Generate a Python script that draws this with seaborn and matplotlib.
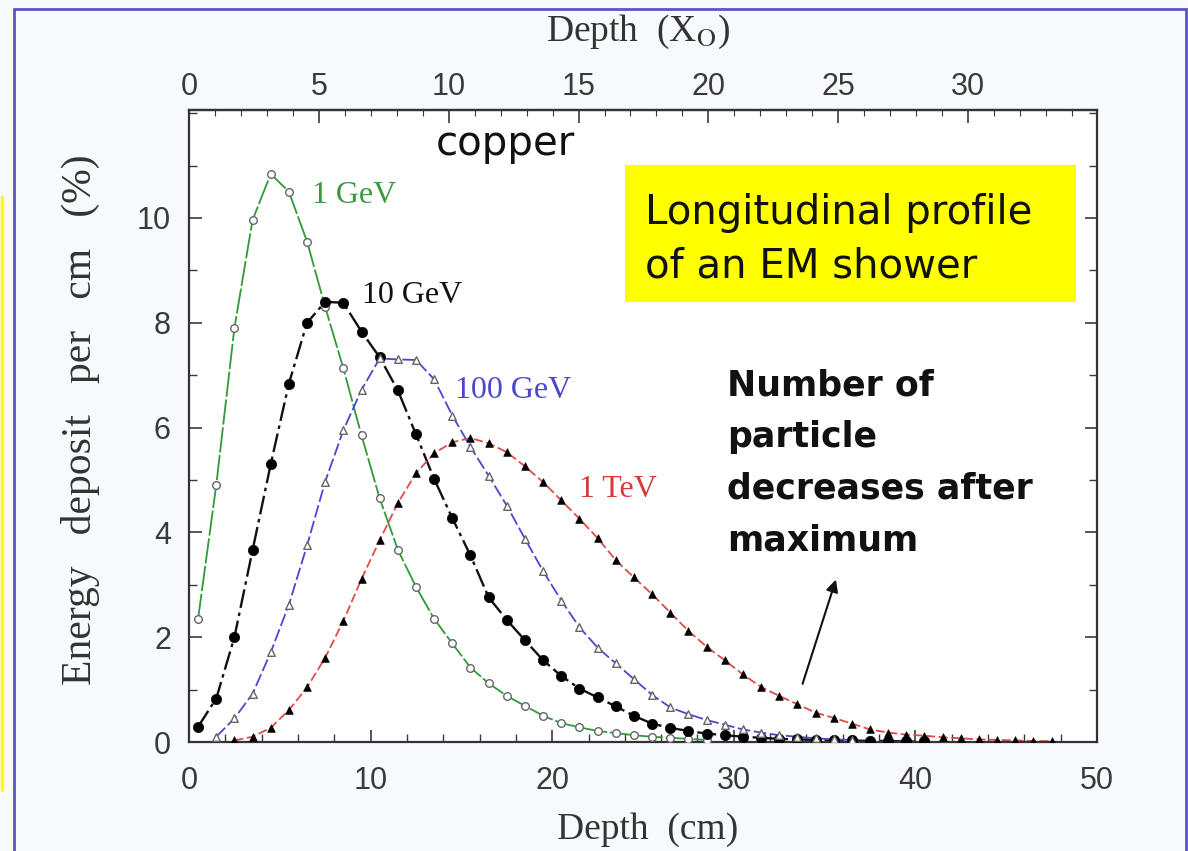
import numpy as np
import pandas as pd
import matplotlib
matplotlib.use("Agg")
import matplotlib.pyplot as plt
from matplotlib.patches import Rectangle
from matplotlib.ticker import MultipleLocator
import seaborn as sns

# ---------------- data ----------------
energies = ["1 GeV", "10 GeV", "100 GeV", "1 TeV"]

depth_1gev = np.arange(0.5, 29.0, 1.0)
dep_1gev = [2.35, 4.9, 7.9, 9.96, 10.84, 10.5, 9.55, 8.3, 7.13, 5.85, 4.65, 3.67,
            2.96, 2.35, 1.88, 1.42, 1.12, 0.88, 0.69, 0.5, 0.36, 0.28, 0.21, 0.17,
            0.13, 0.10, 0.08, 0.06, 0.04]

depth_10gev = np.arange(0.5, 41.0, 1.0)
dep_10gev = [0.29, 0.83, 2.0, 3.66, 5.3, 6.84, 8.0, 8.4, 8.38, 7.83, 7.34, 6.71,
             5.87, 5.02, 4.27, 3.56, 2.76, 2.33, 1.94, 1.56, 1.26, 1.02, 0.85, 0.68,
             0.5, 0.35, 0.27, 0.21, 0.16, 0.13, 0.10, 0.08, 0.06, 0.05, 0.04, 0.03,
             0.03, 0.02, 0.02, 0.01, 0.01]

depth_100gev = np.arange(1.5, 37.0, 1.0)
dep_100gev = [0.1, 0.45, 0.92, 1.71, 2.62, 3.75, 4.97, 5.95, 6.72, 7.32, 7.3, 7.29,
              6.92, 6.23, 5.63, 5.08, 4.51, 3.88, 3.26, 2.7, 2.19, 1.8, 1.5, 1.2,
              0.9, 0.66, 0.53, 0.42, 0.33, 0.24, 0.18, 0.13, 0.10, 0.07, 0.05, 0.04]

depth_1tev = np.arange(2.5, 48.0, 1.0)
dep_1tev = [0.03, 0.1, 0.27, 0.61, 1.04, 1.61, 2.31, 3.11, 3.85, 4.56, 5.13, 5.51,
            5.72, 5.8, 5.7, 5.53, 5.26, 4.96, 4.61, 4.26, 3.89, 3.47, 3.14, 2.82,
            2.47, 2.12, 1.82, 1.56, 1.29, 1.05, 0.88, 0.72, 0.56, 0.46, 0.35, 0.24,
            0.18, 0.14, 0.12, 0.09, 0.07, 0.05, 0.04, 0.03, 0.02, 0.015]

x_ticks_cm = [0, 10, 20, 30, 40, 50]
y_ticks = [0, 2, 4, 6, 8, 10]
x0_ticks = [0, 5, 10, 15, 20, 25, 30]
X0_CU = 1.43  # radiation length of copper in cm

# ---------------- styles ----------------
line_colors = {"1 GeV": "#2f9a3a", "10 GeV": "#111111", "100 GeV": "#4b46d0", "1 TeV": "#e04a4a"}
text_colors = {"1 GeV": "#3a9a40", "10 GeV": "#111111", "100 GeV": "#4b46d0", "1 TeV": "#d83838"}
dashes = {"1 GeV": (14, 1.5), "10 GeV": (8, 2, 1.5, 2), "100 GeV": (7, 2), "1 TeV": (5, 2)}
line_widths = {"1 GeV": 1.3, "10 GeV": 1.7, "100 GeV": 1.3, "1 TeV": 1.3}
marker_style = {
    "1 GeV": dict(marker="o", s=30, facecolor="white", edgecolor="#666666", linewidth=1.0),
    "10 GeV": dict(marker="o", s=55, facecolor="black", edgecolor="black", linewidth=0.5),
    "100 GeV": dict(marker="^", s=30, facecolor="white", edgecolor="#666666", linewidth=1.0),
    "1 TeV": dict(marker="^", s=30, facecolor="black", edgecolor="black", linewidth=0.5),
}

frames = []
for name, d, v in [("1 GeV", depth_1gev, dep_1gev), ("10 GeV", depth_10gev, dep_10gev),
                   ("100 GeV", depth_100gev, dep_100gev), ("1 TeV", depth_1tev, dep_1tev)]:
    frames.append(pd.DataFrame({"depth": d, "deposit": v, "energy": name}))
df = pd.concat(frames, ignore_index=True)

sns.set_style("ticks")
plt.rcParams["font.family"] = ["Liberation Sans", "DejaVu Sans"]
plt.rcParams["mathtext.fontset"] = "stix"

fig = plt.figure(figsize=(11.88, 8.51), dpi=100, facecolor="#f7f9fc")
ax = fig.add_axes([189 / 1188, 109 / 851, 908 / 1188, 632 / 851])
ax.set_facecolor("white")

for name in energies:
    sub = df[df["energy"] == name]
    sns.lineplot(data=sub, x="depth", y="deposit", color=line_colors[name],
                 estimator=None, legend=False, linewidth=line_widths[name],
                 dashes=dashes[name], ax=ax, zorder=2)
for name in energies:
    sub = df[df["energy"] == name]
    sns.scatterplot(data=sub, x="depth", y="deposit", ax=ax, zorder=3, legend=False,
                    **marker_style[name])

ax.set_xlim(0, 50)
ax.set_ylim(0, 12.06)
ax.set_xticks(x_ticks_cm)
ax.set_yticks(y_ticks)
ax.xaxis.set_minor_locator(MultipleLocator(2))
ax.yaxis.set_minor_locator(MultipleLocator(1))
ax.tick_params(axis="both", which="both", direction="in", colors="#3a3a3a",
               labelsize=22, right=True, top=False)
ax.tick_params(axis="both", which="major", length=9, width=1.2)
ax.tick_params(axis="both", which="minor", length=6, width=1.0)
ax.tick_params(axis="x", which="major", pad=17)
ax.tick_params(axis="y", which="major", pad=13)
for sp in ax.spines.values():
    sp.set_visible(True)
    sp.set_linewidth(1.6)
    sp.set_color("#333333")

serif = ["Liberation Serif", "DejaVu Serif"]
ax.set_xlabel("Depth  (cm)", fontsize=27, family=serif, color="#333333")
ax.xaxis.set_label_coords(0.5055, -0.139)
ax.xaxis.label.set_va("center")
ax.set_ylabel("Energy   deposit   per   cm   (%)", fontsize=30, family=serif, color="#333333")
ax.yaxis.set_label_coords(-0.12, 0.51)
ax.yaxis.label.set_va("center")

secax = ax.secondary_xaxis("top", functions=(lambda x: x / X0_CU, lambda x: x * X0_CU))
secax.set_xticks(x0_ticks)
secax.xaxis.set_minor_locator(MultipleLocator(1))
secax.tick_params(axis="x", which="both", direction="in", colors="#3a3a3a", labelsize=22)
secax.tick_params(axis="x", which="major", length=9, width=1.2, pad=6)
secax.tick_params(axis="x", which="minor", length=4, width=0.8)
secax.spines["top"].set_linewidth(1.6)
secax.spines["top"].set_color("#333333")
fig.text(638 / 1188, 1 - 32 / 851, r"Depth  (X$_{\rm O}$)", fontsize=27, family=serif,
         color="#333333", ha="center", va="center")

# series labels
label_pos = {"1 GeV": (6.77, 10.29), "10 GeV": (9.53, 8.38), "100 GeV": (14.65, 6.56), "1 TeV": (21.5, 4.68)}
for name in energies:
    x, y = label_pos[name]
    ax.text(x, y, name, color=text_colors[name], fontsize=23, family=serif,
            ha="left", va="baseline", zorder=4)

ax.text(17.4, 11.2, "copper", fontsize=29, family="DejaVu Sans", color="#111111",
        ha="center", va="baseline")

# yellow box
fig.add_artist(Rectangle((625 / 1188, 1 - 302 / 851), 451 / 1188, 137 / 851,
                         transform=fig.transFigure, facecolor="#ffff00", edgecolor="none", zorder=5))
fig.text(645 / 1188, 1 - 240 / 851, "Longitudinal profile\nof an EM shower", fontsize=29,
         family="DejaVu Sans", color="#111111", ha="left", va="center", linespacing=1.43, zorder=6)

fig.text(727 / 1188, 1 - 368 / 851, "Number of\nparticle\ndecreases after\nmaximum",
         fontsize=25, fontweight="bold", family="DejaVu Sans", color="#111111",
         ha="left", va="top", linespacing=1.66)

ax.annotate("", xy=(35.67, 3.15), xytext=(33.74, 1.06),
            arrowprops=dict(arrowstyle="-|>", color="#111111", lw=1.5, mutation_scale=18))

# slide frame
fig.add_artist(Rectangle((14 / 1188, -0.01), 1172 / 1188, 1 - 9 / 851 + 0.01,
                         transform=fig.transFigure, facecolor="none", edgecolor="#5a55c0",
                         linewidth=2.0, zorder=0))
fig.add_artist(plt.Line2D([1.5 / 1188, 1.5 / 1188], [1 - 197 / 851, 1 - 790 / 851],
                          transform=fig.transFigure, color="#ffff00", linewidth=2.5))

fig.savefig("out.png", dpi=100, facecolor=fig.get_facecolor())
